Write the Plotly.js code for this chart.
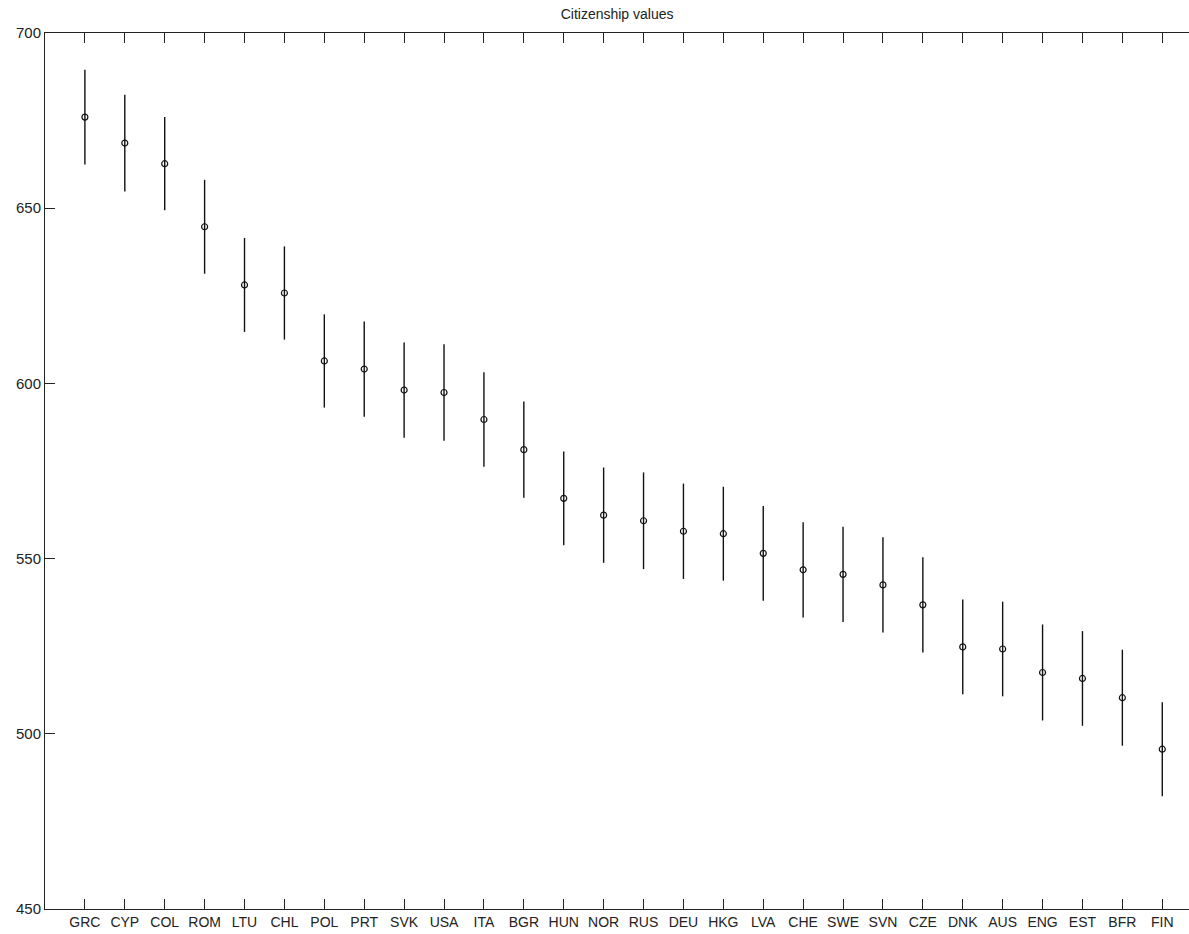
<!DOCTYPE html>
<html>
<head>
<meta charset="utf-8">
<script src="https://cdn.plot.ly/plotly-3.0.1.min.js"></script>
<style>html,body{margin:0;padding:0;background:#fff;}#chart{width:1189px;height:934px;}</style>
</head>
<body>
<div id="chart"></div>
<script>
var countries = ["GRC","CYP","COL","ROM","LTU","CHL","POL","PRT","SVK","USA","ITA","BGR","HUN","NOR","RUS","DEU","HKG","LVA","CHE","SWE","SVN","CZE","DNK","AUS","ENG","EST","BFR","FIN"];
var means = [676.0,668.6,662.7,644.7,628.1,625.8,606.4,604.1,598.1,597.4,589.7,581.1,567.2,562.4,560.8,557.8,557.1,551.5,546.8,545.5,542.5,536.8,524.8,524.2,517.5,515.8,510.3,495.6];
var errors = [13.5,13.8,13.3,13.4,13.4,13.3,13.3,13.6,13.6,13.8,13.5,13.7,13.4,13.6,13.8,13.6,13.4,13.5,13.6,13.6,13.6,13.6,13.5,13.5,13.7,13.5,13.7,13.4];
var yTicks = [450,500,550,600,650,700];

var positions = countries.map(function(c,i){return i+1;});

var trace = {
  x: positions,
  y: means,
  type: 'scatter',
  mode: 'markers',
  marker: {symbol:'circle-open', size:6, color:'#111', line:{width:1.2, color:'#111'}},
  error_y: {type:'data', array: errors, visible:true, color:'#111', thickness:1.4, width:0},
  hoverinfo: 'skip',
  showlegend: false
};

var layout = {
  width: 1189, height: 934,
  margin: {l:45, r:0, t:33, b:25},
  paper_bgcolor:'#fff', plot_bgcolor:'#fff',
  font: {family:'"Liberation Sans", Arial, sans-serif', size:14, color:'#222'},
  title: {text:'Citizenship values', font:{size:14, color:'#222'}, x:0.519, xanchor:'center', xref:'container', y:0.985, yanchor:'middle', yref:'container'},
  xaxis: {
    range:[0, 28.67],
    tickmode:'array', tickvals: positions, ticktext: countries,
    ticks:'inside', ticklen:10, tickwidth:1, tickcolor:'#222',
    showline:true, linecolor:'#222', linewidth:1, mirror:'allticks',
    showgrid:false, zeroline:false,
    tickfont:{size:14, color:'#222'}
  },
  yaxis: {
    range:[450, 700],
    tickmode:'array', tickvals: yTicks, ticktext: yTicks.map(String),
    ticks:'inside', ticklen:10, tickwidth:1, tickcolor:'#222',
    showline:true, linecolor:'#222', linewidth:1, mirror:false,
    showgrid:false, zeroline:false,
    tickfont:{size:15, color:'#222'}
  }
};

Plotly.newPlot('chart', [trace], layout, {displayModeBar:false, staticPlot:true});
</script>
</body>
</html>
